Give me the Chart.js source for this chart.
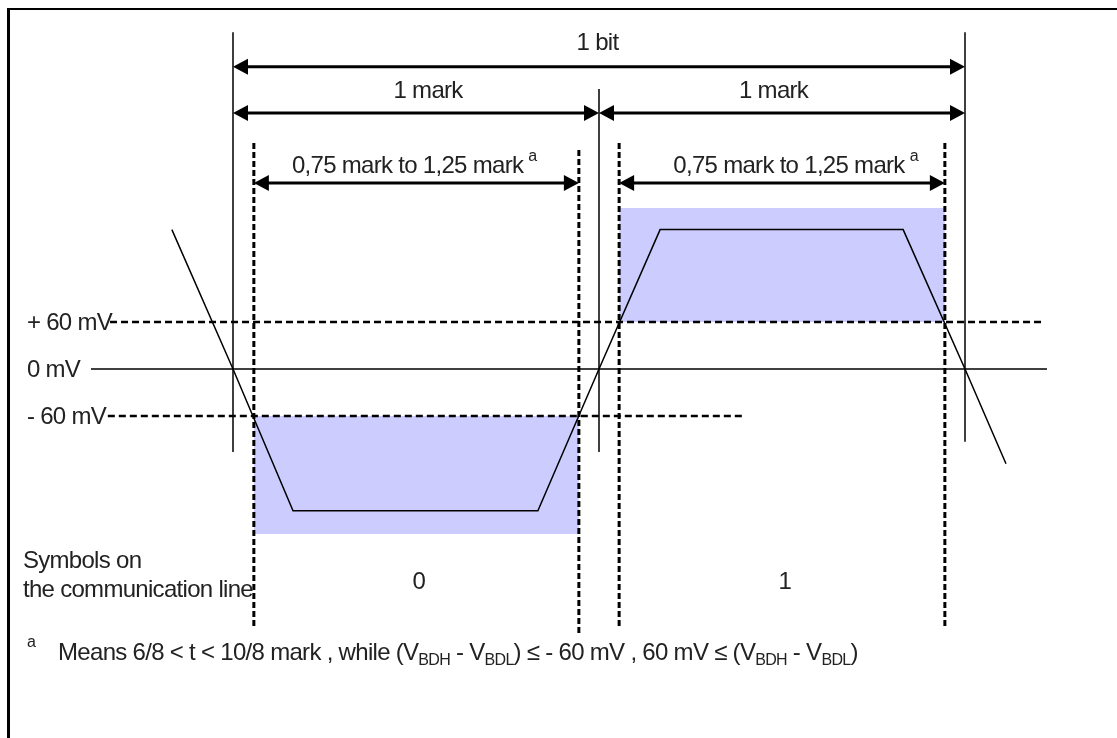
<!DOCTYPE html>
<html>
<head>
<meta charset="utf-8">
<script src="https://cdn.jsdelivr.net/npm/chart.js@4.4.1/dist/chart.umd.min.js"></script>
<style>
  html, body { margin: 0; padding: 0; background: #fff; overflow: hidden; }
  #wrap { position: relative; width: 1117px; height: 738px; }
  #frame { position: absolute; left: 7px; top: 8px; width: 1200px; height: 800px;
           border-left: 3px solid #000; border-top: 2px solid #000; pointer-events: none; }
</style>
</head>
<body>
<div id="wrap">
  <canvas id="timing" width="1117" height="738"></canvas>
  <div id="frame"></div>
</div>
<script>
// time in marks (1 bit = 2 marks), level in mV
const waveT = [-0.167, 0, 0.164, 0.833, 1, 1.167, 1.831, 2, 2.112];
const waveMv = [178, 0, -181, -181, 0, 178, 178, 0, -121];

const levelMv = [60, 0, -60];
const levelLabels = ['+ 60 mV', '0 mV', '- 60 mV'];
const levelFrom = [-0.336, -0.388, -0.342];
const levelTo = [2.213, 2.224, 1.393];

// bit / mark boundaries (solid)
const boundT = [0, 1, 2];
const boundTop = [430, 357.5, 430];
const boundBottom = [-106, -106, -93];

// 0,75 .. 1,25 mark windows (dashed)
const windowT = [0.057, 0.945, 1.055, 1.945];
const windowTop = [288.5, 279.6, 288.5, 288.5];
const windowBottom = [-329, -339.6, -329, -329];

// shaded tolerance boxes
const boxFrom = [0.057, 1.055];
const boxTo = [0.945, 1.945];
const boxEdge = [-210.6, 205.5];
const boxLevel = [-60, 60];

// dimension arrows
const dimFrom = [0, 0, 1, 0.057, 1.055];
const dimTo = [2, 1, 2, 0.945, 1.945];
const dimMv = [386, 326.8, 326.8, 237.4, 237.4];
const dimLabels = ['1 bit', '1 mark', '1 mark', '0,75 mark to 1,25 mark', '0,75 mark to 1,25 mark'];
const dimNote = [false, false, false, true, true];

const symbolT = [0.508, 1.508];
const symbolLabels = ['0', '1'];

// label anchors (data units)
const labelPos = {
  dimT: [0.996, 0.533, 1.477, 0.477, 1.519],
  dimMv: [407, 346, 346, 250, 250],
  levelT: -0.563,
  symbolMv: -270,
  captionT: -0.574,
  captionMv: [-254, -291],
  noteT: -0.478,
  noteMarkT: -0.563,
  noteMv: -371.5
};

const FONT = '"Liberation Sans", Arial, sans-serif';
const BIG = '24px ' + FONT;
const SMALL = '16px ' + FONT;
const TEXT = '#222';

const seg = (x1, y1, x2, y2, extra) => Object.assign({
  data: [{ x: x1, y: y1 }, { x: x2, y: y2 }],
  borderColor: '#000', borderWidth: 1.5, pointRadius: 0, fill: false, tension: 0
}, extra);

const datasets = [];
datasets.push({
  data: waveT.map((t, i) => ({ x: t, y: waveMv[i] })),
  borderColor: '#000', borderWidth: 1.5, pointRadius: 0, fill: false, tension: 0
});
levelMv.forEach((mv, i) => {
  datasets.push(seg(levelFrom[i], mv, levelTo[i], mv,
    mv === 0 ? {} : { borderDash: [7, 4], borderWidth: 2.5 }));
});
boundT.forEach((t, i) => datasets.push(seg(t, boundTop[i], t, boundBottom[i])));
windowT.forEach((t, i) => datasets.push(seg(t, windowTop[i], t, windowBottom[i],
  { borderDash: [6, 3], borderWidth: 3 })));
boxFrom.forEach((t, i) => datasets.push(seg(t, boxEdge[i], boxTo[i], boxEdge[i], {
  borderWidth: 0, borderColor: 'rgba(0,0,0,0)', backgroundColor: '#ccccff',
  fill: { value: boxLevel[i] }, order: 5
})));

function arrowHead(ctx, tipX, y, dir) {
  ctx.beginPath();
  ctx.moveTo(tipX, y);
  ctx.lineTo(tipX + dir * 15, y - 8);
  ctx.lineTo(tipX + dir * 15, y + 8);
  ctx.closePath();
  ctx.fill();
}

function drawRuns(ctx, x, y, runs) {
  runs.forEach(r => {
    ctx.font = r.sub ? SMALL : BIG;
    ctx.fillText(r.t, x, r.sub ? y + 5 : y);
    x += ctx.measureText(r.t).width;
  });
}

const annotations = {
  id: 'annotations',
  afterDatasetsDraw(chart) {
    const { ctx, scales: { x, y } } = chart;
    ctx.save();
    ctx.fillStyle = '#000';
    ctx.strokeStyle = '#000';

    dimFrom.forEach((from, i) => {
      const x1 = x.getPixelForValue(from);
      const x2 = x.getPixelForValue(dimTo[i]);
      const yy = y.getPixelForValue(dimMv[i]);
      ctx.lineWidth = 3;
      ctx.beginPath();
      ctx.moveTo(x1 + 10, yy);
      ctx.lineTo(x2 - 10, yy);
      ctx.stroke();
      arrowHead(ctx, x1, yy, 1);
      arrowHead(ctx, x2, yy, -1);
    });

    ctx.fillStyle = TEXT;
    ctx.textBaseline = 'alphabetic';
    ctx.letterSpacing = '-0.7px';
    dimLabels.forEach((label, i) => {
      const cx = x.getPixelForValue(labelPos.dimT[i]);
      const by = y.getPixelForValue(labelPos.dimMv[i]);
      ctx.font = BIG;
      ctx.textAlign = 'center';
      ctx.fillText(label, cx, by);
      if (dimNote[i]) {
        const w = ctx.measureText(label).width;
        ctx.font = SMALL;
        ctx.textAlign = 'left';
        ctx.fillText('a', cx + w / 2 + 5, by - 12);
      }
    });

    ctx.font = BIG;
    ctx.textAlign = 'left';
    levelLabels.forEach((label, i) => {
      ctx.fillText(label, x.getPixelForValue(labelPos.levelT), y.getPixelForValue(levelMv[i]) + 8);
    });

    ctx.textAlign = 'center';
    symbolLabels.forEach((label, i) => {
      ctx.fillText(label, x.getPixelForValue(symbolT[i]), y.getPixelForValue(labelPos.symbolMv) + 9);
    });

    ctx.textAlign = 'left';
    const cx = x.getPixelForValue(labelPos.captionT);
    ctx.fillText('Symbols on', cx, y.getPixelForValue(labelPos.captionMv[0]));
    ctx.fillText('the communication line', cx, y.getPixelForValue(labelPos.captionMv[1]));

    const ny = y.getPixelForValue(labelPos.noteMv);
    ctx.font = SMALL;
    ctx.fillText('a', x.getPixelForValue(labelPos.noteMarkT), ny - 13);
    drawRuns(ctx, x.getPixelForValue(labelPos.noteT), ny, [
      { t: 'Means 6/8 < t < 10/8 mark , while (V' }, { t: 'BDH', sub: true },
      { t: ' - V' }, { t: 'BDL', sub: true },
      { t: ') \u2264 - 60 mV , 60 mV \u2264 (V' }, { t: 'BDH', sub: true },
      { t: ' - V' }, { t: 'BDL', sub: true }, { t: ')' }
    ]);
    ctx.restore();
  }
};

new Chart(document.getElementById('timing'), {
  type: 'line',
  data: { datasets },
  options: {
    responsive: false,
    animation: false,
    devicePixelRatio: 1,
    layout: { padding: 0 },
    plugins: { legend: { display: false }, tooltip: { enabled: false } },
    scales: {
      x: { type: 'linear', min: -0.6366, max: 2.4153, display: false },
      y: { min: -471.1, max: 471.1, display: false }
    }
  },
  plugins: [annotations]
});
</script>
</body>
</html>
